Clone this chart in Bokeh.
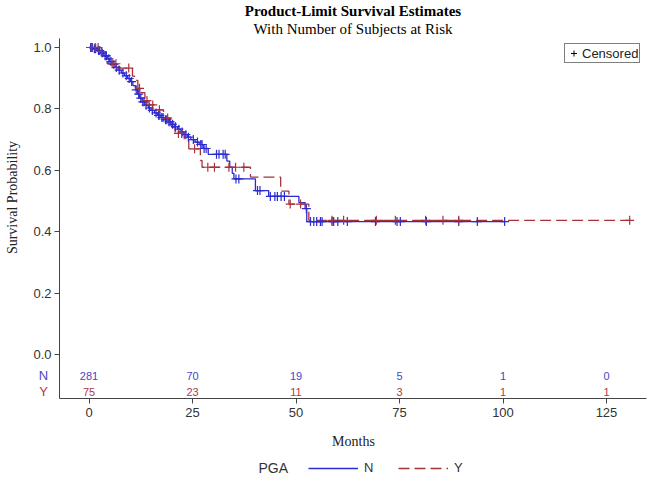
import numpy as np
from bokeh.plotting import figure
from bokeh.models import (Range1d, FixedTicker, Label, Legend, LegendItem,
                          NumeralTickFormatter)
from bokeh.core.properties import value
from bokeh.embed import file_html
from bokeh.resources import INLINE

# ---------------- data ----------------
# Group N : event times (months) and survival after each event
n_event_t = [1.0, 2.0, 2.8, 3.6, 4.4, 5.0, 5.6, 6.3, 7.0, 7.8, 8.6, 9.3, 10.0, 10.6,
             11.2, 11.7, 12.2, 12.8, 13.5, 14.3, 15.0, 15.8, 16.6, 17.4, 18.2, 19.0,
             19.8, 20.6, 21.4, 22.2, 23.0, 23.8, 24.6, 25.6, 26.6, 27.6, 28.8, 33.3,
             34.0, 34.6, 35.0, 40.2, 43.4, 50.7, 52.2, 52.6]
n_event_s = [0.996, 0.99, 0.982, 0.973, 0.963, 0.954, 0.945, 0.935, 0.926, 0.917,
             0.908, 0.899, 0.889, 0.876, 0.862, 0.848, 0.835, 0.823, 0.812, 0.803,
             0.795, 0.787, 0.779, 0.772, 0.765, 0.758, 0.75, 0.742, 0.734, 0.725,
             0.716, 0.708, 0.7, 0.692, 0.684, 0.671, 0.652, 0.63, 0.61, 0.59, 0.572,
             0.534, 0.515, 0.495, 0.475, 0.433]
n_last = 100.4
n_censor = [0.4, 0.8, 1.3, 1.6, 2.3, 2.6, 3.2, 3.9, 4.2, 4.8, 5.3, 6.0, 6.6, 7.3, 8.2,
            9.0, 9.7, 10.3, 11.4, 12.0, 12.5, 13.0, 13.3, 13.8, 14.6, 15.3, 16.2,
            16.8, 17.1, 17.6, 17.9, 18.5, 18.8, 19.3, 19.6, 20.2, 20.9, 21.7, 22.5,
            23.4, 24.0, 25.2, 26.2, 27.0, 27.3, 27.8, 28.3, 30.8, 31.4, 32.4, 32.9,
            35.5, 36.2, 40.7, 41.3, 43.8, 44.9, 45.5, 46.4, 47.2, 52.5, 53.5, 54.3,
            55.0, 55.9, 56.3, 58.7, 59.1, 60.1, 62.4, 69.2, 74.4, 75.2, 81.5, 89.3,
            93.8, 100.4]

# Group Y
y_event_t = [2.5, 3.5, 4.4, 7.2, 10.5, 11.0, 11.8, 12.5, 13.5, 14.5, 16.0, 18.0,
             19.3, 20.0, 20.8, 23.0, 24.1, 26.9, 27.3, 39.0, 46.3, 48.3, 53.1]
y_event_s = [0.987, 0.973, 0.947, 0.933, 0.907, 0.893, 0.867, 0.853, 0.827, 0.813,
             0.797, 0.77, 0.755, 0.74, 0.72, 0.697, 0.67, 0.632, 0.61, 0.578, 0.532,
             0.49, 0.437]
y_last = 130.6
y_censor = [0.6, 1.5, 2.2, 3.0, 5.6, 6.5, 9.6, 12.2, 14.0, 15.4, 17.0, 19.0, 21.6,
            22.4, 25.5, 28.7, 30.3, 33.8, 35.4, 37.4, 48.6, 51.1, 58.7, 61.5, 69.4,
            74.0, 81.3, 85.5, 89.3, 130.6]

# Numbers at risk
risk_times = [0, 25, 50, 75, 100, 125]
risk_n = [281, 70, 19, 5, 1, 0]
risk_y = [75, 23, 11, 3, 1, 1]

x_ticks = [0, 25, 50, 75, 100, 125]
y_ticks = [0.0, 0.2, 0.4, 0.6, 0.8, 1.0]

BLUE = "#2b2bd0"
RED = "#a8323a"
BLUE_TXT = "#4646c8"
RED_TXT = "#b03a44"
SANS = "Liberation Sans"
SERIF = "Liberation Serif"

W, H = 650, 481
OFF = 0  # where the figure's top-left corner lands in the picture


def sx(px):
    return px - OFF


def sy(py):
    return H - (py - OFF)


def step_data(times, surv, last):
    xs = np.array([0.0] + list(times) + [last])
    ys = np.array([1.0] + list(surv) + [surv[-1]])
    return xs, ys


def surv_at(xs, ys, t):
    idx = np.searchsorted(xs, np.asarray(t), side="right") - 1
    return ys[idx]


# pixel geometry of the plotting area (picture coordinates)
PX0, PX_PER = 88.5, 103.5 / 25.0     # x=0 position, px per month
PY1, PY_PER = 47.0, 307.0            # y=1.0 position, px per unit
AX_LEFT, AX_RIGHT, AX_TOP, AX_BOTTOM = 59.0, 646.0, 38.0, 398.0


def xdata(px):
    return (px - PX0) / PX_PER


def ydata(py):
    return 1.0 - (py - PY1) / PY_PER


p = figure(width=W, height=H, output_backend="svg", toolbar_location=None,
           x_range=Range1d(xdata(OFF), xdata(OFF + W)),
           y_range=Range1d(ydata(OFF + H), ydata(OFF)),
           min_border_left=0, min_border_right=0, min_border_top=0,
           min_border_bottom=0)
p.title.visible = False
p.grid.visible = False
p.outline_line_color = None
p.background_fill_color = "white"
p.border_fill_color = "white"

for ax in (p.xaxis[0], p.yaxis[0]):
    ax.axis_line_color = "#444444"
    ax.major_tick_line_color = "#444444"
    ax.major_tick_out = 5
    ax.major_tick_in = 0
    ax.minor_tick_line_color = None
    ax.major_label_text_font = SANS
    ax.major_label_text_font_size = "13px"
    ax.major_label_text_color = "#333333"

p.xaxis.ticker = FixedTicker(ticks=x_ticks)
p.xaxis.major_label_standoff = 4
p.xaxis.fixed_location = ydata(AX_BOTTOM)
p.xaxis.bounds = (xdata(AX_LEFT), xdata(AX_RIGHT))

p.yaxis.ticker = FixedTicker(ticks=y_ticks)
p.yaxis.formatter = NumeralTickFormatter(format="0.0")
p.yaxis.major_label_standoff = 3
p.yaxis.fixed_location = xdata(AX_LEFT)
p.yaxis.bounds = (ydata(AX_BOTTOM), ydata(AX_TOP))

# curves
nx, ny = step_data(n_event_t, n_event_s, n_last)
yx, yy = step_data(y_event_t, y_event_s, y_last)

r_n = p.step(nx, ny, mode="after", line_color=BLUE, line_width=1.3)
r_y = p.step(yx, yy, mode="after", line_color=RED, line_width=1.3, line_dash="11 5")

p.scatter(n_censor, surv_at(nx, ny, n_censor), marker="cross", size=9,
          line_color=BLUE, line_width=1.2)
p.scatter(y_censor, surv_at(yx, yy, y_censor), marker="cross", size=9,
          line_color=RED, line_width=1.2)

# numbers at risk
p.text(x=risk_times, y=[ydata(375)] * len(risk_times), text=[str(v) for v in risk_n],
       text_align="center", text_baseline="middle", text_font=value(SANS),
       text_font_size="11px", text_color=BLUE_TXT)
p.text(x=risk_times, y=[ydata(391)] * len(risk_times), text=[str(v) for v in risk_y],
       text_align="center", text_baseline="middle", text_font=value(SANS),
       text_font_size="11px", text_color=RED_TXT)


def add_label(text, px, py, size, font, color, align="center", bold=False,
              angle=0.0):
    p.add_layout(Label(x=sx(px), y=sy(py), x_units="screen", y_units="screen",
                       text=text, text_align=align, text_baseline="middle",
                       text_font=font, text_font_size=size, angle=angle,
                       text_font_style="bold" if bold else "normal",
                       text_color=color))


add_label("N", 43, 375, "13px", SANS, BLUE_TXT)
add_label("Y", 43, 391, "13px", SANS, RED_TXT)
add_label("Product-Limit Survival Estimates", 352.5, 10, "15px", SERIF, "black",
          bold=True)
add_label("With Number of Subjects at Risk", 352.5, 28.5, "15px", SERIF, "black")
add_label("Survival Probability", 12, 197, "14px", SERIF, "#222222", angle=np.pi / 2)
add_label("Months", 353, 441, "14px", SERIF, "#222222")
add_label("PGA", 258, 467, "14px", SANS, "#333333", align="left")

# censored legend (dummy renderer carries only the legend glyph style)
r_c = p.scatter([np.nan], [np.nan], marker="cross", size=8, line_color="black",
                line_width=1)
leg_c = Legend(items=[LegendItem(label="Censored", renderers=[r_c])],
               location=(sx(564), sy(63)), margin=0, padding=1, spacing=0,
               glyph_width=15, glyph_height=16, label_height=16, label_standoff=1,
               label_text_font=SANS, label_text_font_size="13px",
               label_text_color="#222222", border_line_color="black",
               border_line_width=1, background_fill_color="white",
               background_fill_alpha=1)
p.add_layout(leg_c, "center")

# group legend
leg_g = Legend(items=[LegendItem(label="N", renderers=[r_n]),
                      LegendItem(label="Y", renderers=[r_y])],
               orientation="horizontal", location=(sx(308), sy(475)), margin=0,
               padding=0, spacing=14, glyph_width=50, glyph_height=14,
               label_height=14, label_standoff=6, label_text_font=SANS,
               label_text_font_size="13px", label_text_color="#333333",
               border_line_color=None, background_fill_alpha=0)
p.add_layout(leg_g, "center")

open("out.html", "w").write(file_html(p, INLINE))
